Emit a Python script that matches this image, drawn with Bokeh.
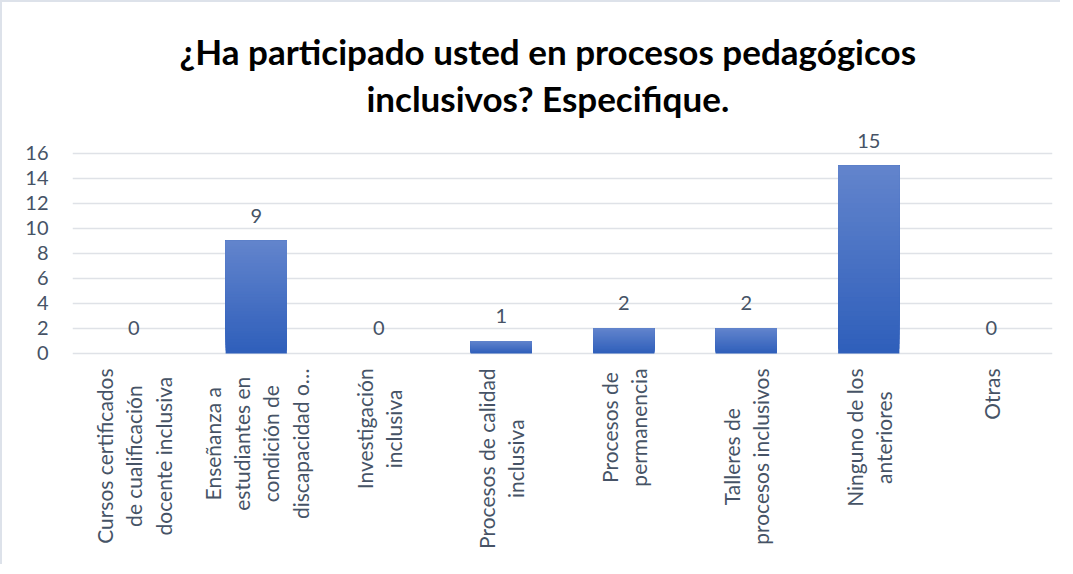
import numpy as np
from bokeh.plotting import figure
from bokeh.models import FactorRange, Range1d, FixedTicker, ColumnDataSource, Label
from bokeh.core.properties import value
from bokeh.embed import file_html
from bokeh.resources import INLINE

title_text = "¿Ha participado usted en procesos pedagógicos\ninclusivos? Especifique."
categories = [
    "Cursos certificados\nde cualificación\ndocente inclusiva",
    "Enseñanza a\nestudiantes en\ncondición de\ndiscapacidad o…",
    "Investigación\ninclusiva",
    "Procesos de calidad\ninclusiva",
    "Procesos de\npermanencia",
    "Talleres de\nprocesos inclusivos",
    "Ninguno de los\nanteriores",
    "Otras",
]
counts = [0, 9, 0, 1, 2, 2, 15, 0]
y_ticks = [0, 2, 4, 6, 8, 10, 12, 14, 16]

TEXT = "#465366"
FONT = "Lato"

p = figure(
    frame_width=980, frame_height=540,
    x_range=FactorRange(factors=categories, range_padding=0),
    y_range=Range1d(-16.56, 26.62),
    output_backend="svg", toolbar_location=None,
    min_border_left=70, min_border_right=8, min_border_top=18, min_border_bottom=4,
    styles={"border-left": "2px solid #dde2ea", "border-top": "2px solid #dde2ea"},
)
p.title.visible = False
p.outline_line_color = None
p.background_fill_color = "white"
p.border_fill_color = "white"

# gradient bars: overlapping slices, dark bottom to light top
N = 40
dark = np.array([0x2f, 0x5f, 0xbb])
light = np.array([0x63, 0x85, 0xcd])
xs, bots, tops, cols = [], [], [], []
for c, v in zip(categories, counts):
    if v <= 0:
        continue
    for k in range(N):
        f = (k + 0.5) / N
        rgb = (dark + (light - dark) * f).astype(int)
        xs.append(c)
        bots.append(v * k / N)
        tops.append(v)
        cols.append("#%02x%02x%02x" % tuple(rgb))
src = ColumnDataSource(dict(x=xs, bottom=bots, top=tops, color=cols))
p.vbar(x="x", bottom="bottom", top="top", width=0.5, source=src,
       fill_color="color", line_color=None)

# data labels
p.text(x=categories, y=counts, text=[str(v) for v in counts],
       text_align="center", text_baseline="middle", y_offset=-25,
       text_font=value(FONT), text_font_size="20px", text_color=TEXT)

# grid
p.xgrid.grid_line_color = None
p.ygrid.ticker = FixedTicker(ticks=y_ticks)
p.ygrid.grid_line_color = "#dfe2e7"
p.ygrid.grid_line_width = 1.6

# axes
p.yaxis.ticker = FixedTicker(ticks=y_ticks)
p.yaxis.axis_line_color = None
p.yaxis.major_tick_line_color = None
p.yaxis.major_tick_out = 0
p.yaxis.minor_tick_line_color = None
p.yaxis.major_label_standoff = 24
p.yaxis.major_label_text_font = FONT
p.yaxis.major_label_text_font_size = "20px"
p.yaxis.major_label_text_color = TEXT

p.xaxis.visible = False

# title (two centred lines)
p.add_layout(Label(x=3.88, y=22.3, x_units="data", y_units="data", text=title_text,
                   anchor="center", text_align="center", text_font=FONT,
                   text_font_size="35px", text_font_style="bold", text_color="black",
                   text_line_height=1.1))

# category labels: rotated, lines centred, block top near the zero line
# (x given as the factor's synthetic centre position in the categorical range)
for i, c in enumerate(categories):
    p.add_layout(Label(x=i + 0.5, y=0, x_units="data", y_units="data", text=c,
                       angle=np.pi / 2, anchor="center_right", text_align="center",
                       y_offset=-15, text_font=FONT, text_font_size="21px",
                       text_color=TEXT, text_line_height=1.17))

open("out.html", "w").write(file_html(p, INLINE))
